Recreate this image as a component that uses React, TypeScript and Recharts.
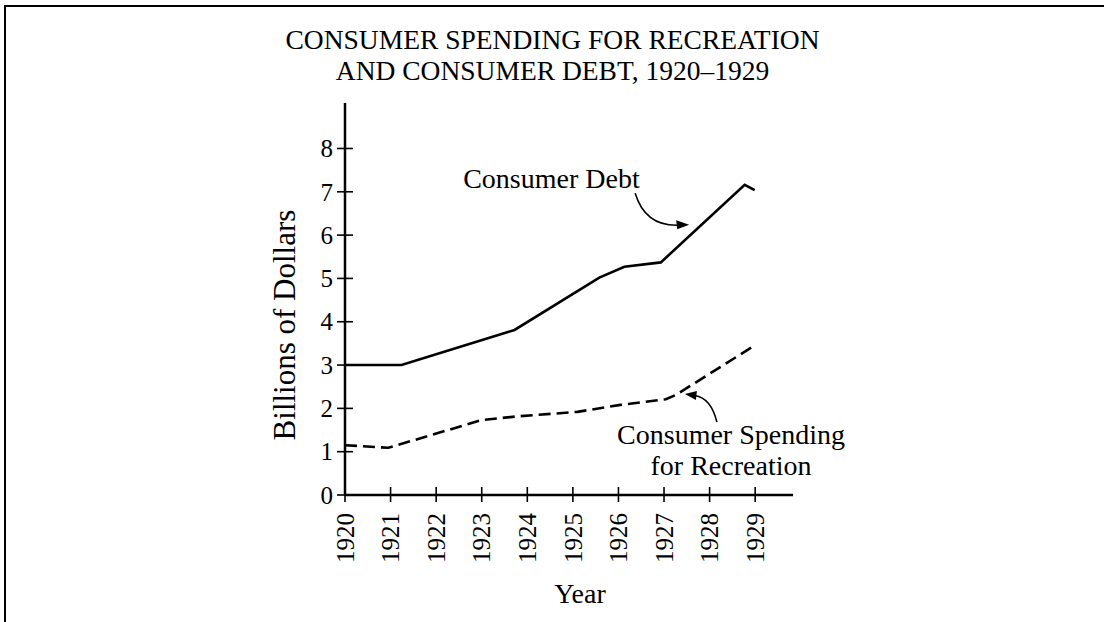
import React from 'react';
import { LineChart, Line, XAxis, YAxis, ReferenceDot } from 'recharts';

const FONT = '"Liberation Serif", "Times New Roman", Times, serif';

// Data
const debtYears = [1920, 1921.24, 1923.72, 1925.58, 1926.13, 1926.93, 1928.77, 1928.99];
const debtValues = [3.0, 3.0, 3.81, 5.02, 5.27, 5.37, 7.16, 7.04];
const recYears = [1920, 1920.95, 1923.0, 1923.73, 1925.1, 1926.04, 1927.04, 1927.26, 1928.94];
const recValues = [1.15, 1.09, 1.73, 1.81, 1.92, 2.08, 2.21, 2.31, 3.42];
const yearTicks = [1920, 1921, 1922, 1923, 1924, 1925, 1926, 1927, 1928, 1929];
const valueTicks = [0, 1, 2, 3, 4, 5, 6, 7, 8];

const titleLines = ['CONSUMER SPENDING FOR RECREATION', 'AND CONSUMER DEBT, 1920–1929'];
const debtLabel = 'Consumer Debt';
const recLabelLines = ['Consumer Spending', 'for Recreation'];

const debtData = debtYears.map((year, i) => ({ year, v: debtValues[i] }));
const recData = recYears.map((year, i) => ({ year, v: recValues[i] }));

const XTick = (props: any) => {
  const { x, y, payload } = props;
  return (
    <g>
      <line x1={x} x2={x} y1={y - 8} y2={y + 7} stroke="#000" strokeWidth={1.6} />
      <text
        transform={`translate(${x},${y + 18}) rotate(-90)`}
        textAnchor="end"
        dy="0.35em"
        fontSize={25}
        fontFamily={FONT}
        fill="#000"
      >
        {payload.value}
      </text>
    </g>
  );
};

const YTick = (props: any) => {
  const { x, y, payload } = props;
  return (
    <g>
      <line x1={x - 8} x2={x + 8} y1={y} y2={y} stroke="#000" strokeWidth={1.6} />
      <text x={x - 12} y={y} dy="0.35em" textAnchor="end" fontSize={25} fontFamily={FONT} fill="#000">
        {payload.value}
      </text>
    </g>
  );
};

const XLabel = (props: any) => {
  const vb = props.viewBox || {};
  return (
    <text
      x={vb.x + vb.width / 2 + 11}
      y={vb.y + 108}
      textAnchor="middle"
      fontSize={28}
      fontFamily={FONT}
      fill="#000"
    >
      Year
    </text>
  );
};

const YLabel = (props: any) => {
  const vb = props.viewBox || {};
  const cx = vb.x + vb.width - 50;
  const cy = vb.y + vb.height / 2 + 26;
  return (
    <text
      transform={`translate(${cx},${cy}) rotate(-90)`}
      textAnchor="middle"
      fontSize={31}
      fontFamily={FONT}
      fill="#000"
    >
      Billions of Dollars
    </text>
  );
};

const DebtText = (props: any) => {
  const { cx, cy } = props;
  return (
    <text x={cx} y={cy} textAnchor="middle" fontSize={28} fontFamily={FONT} fill="#000">
      {debtLabel}
    </text>
  );
};

const RecText = (props: any) => {
  const { cx, cy } = props;
  return (
    <text x={cx} y={cy} textAnchor="middle" fontSize={28} fontFamily={FONT} fill="#000">
      <tspan x={cx} dy={-1.5}>
        {recLabelLines[0]}
      </tspan>
      <tspan x={cx} dy={31}>
        {recLabelLines[1]}
      </tspan>
    </text>
  );
};

const DebtArrow = (props: any) => {
  const { cx, cy } = props;
  return (
    <g>
      <path
        d={`M ${cx - 53} ${cy - 32} Q ${cx - 43} ${cy + 1} ${cx - 10} ${cy}`}
        fill="none"
        stroke="#000"
        strokeWidth={1.6}
      />
      <polygon
        points={`${cx + 1},${cy - 0.5} ${cx - 12},${cy - 5} ${cx - 11},${cy + 4}`}
        fill="#000"
      />
    </g>
  );
};

const RecArrow = (props: any) => {
  const { cx, cy } = props;
  return (
    <g>
      <path
        d={`M ${cx + 31} ${cy + 28} Q ${cx + 25} ${cy + 4} ${cx + 9} ${cy + 1.5}`}
        fill="none"
        stroke="#000"
        strokeWidth={1.6}
      />
      <polygon
        points={`${cx - 1},${cy} ${cx + 11},${cy - 3} ${cx + 10},${cy + 6}`}
        fill="#000"
      />
    </g>
  );
};

export default function App() {
  return (
    <div style={{ position: 'absolute', left: 0, top: 0, width: 1104, height: 622, background: '#fff' }}>
      <div
        style={{
          position: 'absolute',
          left: 4,
          top: 5,
          width: 1100,
          height: 617,
          borderLeft: '2.5px solid #000',
          borderTop: '2.5px solid #000',
          boxSizing: 'border-box',
        }}
      />
      <div
        style={{
          position: 'absolute',
          left: 0,
          top: 24,
          width: 1105,
          textAlign: 'center',
          fontFamily: FONT,
          fontSize: 27.5,
          lineHeight: '31px',
          color: '#000',
        }}
      >
        {titleLines.map((t) => (
          <div key={t}>{t}</div>
        ))}
      </div>
      <div style={{ position: 'absolute', left: 0, top: 0 }}>
        <LineChart width={1104} height={622} margin={{ top: 103, right: 311, bottom: 27, left: 245 }}>
          <XAxis
            dataKey="year"
            type="number"
            domain={[1920, 1929.83]}
            ticks={yearTicks}
            interval={0}
            allowDataOverflow
            axisLine={{ stroke: '#000', strokeWidth: 2.5 }}
            tickLine={false}
            tickSize={0}
            tickMargin={0}
            tick={<XTick />}
            height={100}
            label={<XLabel />}
          />
          <YAxis
            type="number"
            domain={[0, 9.05]}
            ticks={valueTicks}
            interval={0}
            allowDataOverflow
            axisLine={{ stroke: '#000', strokeWidth: 2.5 }}
            tickLine={false}
            tickSize={0}
            tickMargin={0}
            tick={<YTick />}
            width={100}
            label={<YLabel />}
          />
          <Line
            data={debtData}
            dataKey="v"
            type="linear"
            stroke="#000"
            strokeWidth={2.6}
            dot={false}
            isAnimationActive={false}
          />
          <Line
            data={recData}
            dataKey="v"
            type="linear"
            stroke="#000"
            strokeWidth={2.6}
            strokeDasharray="12 6"
            dot={false}
            isAnimationActive={false}
          />
          <ReferenceDot x={1924.53} y={7.09} r={0} ifOverflow="visible" shape={<DebtText />} />
          <ReferenceDot x={1927.53} y={6.23} r={0} ifOverflow="visible" shape={<DebtArrow />} />
          <ReferenceDot x={1928.47} y={1.15} r={0} ifOverflow="visible" shape={<RecText />} />
          <ReferenceDot x={1927.48} y={2.33} r={0} ifOverflow="visible" shape={<RecArrow />} />
        </LineChart>
      </div>
    </div>
  );
}
